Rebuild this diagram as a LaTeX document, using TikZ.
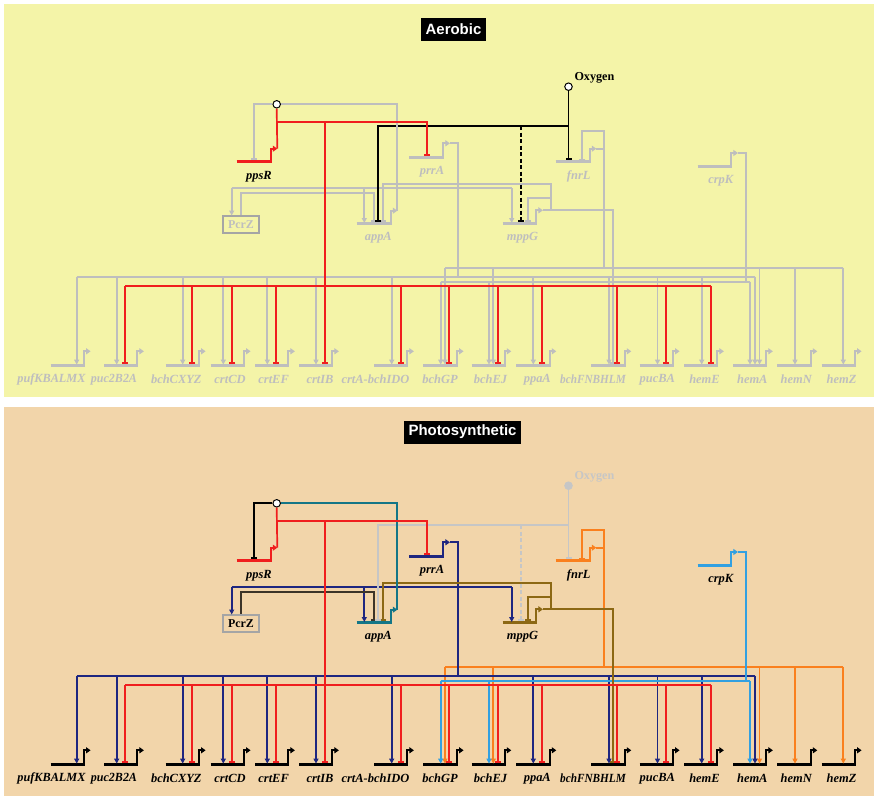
\documentclass[tikz,border=0pt]{standalone}
\usepackage{fontspec}
\usepackage{graphicx}
\setmainfont{Liberation Serif}
\newfontfamily\titlefont{Liberation Sans}
\usetikzlibrary{arrows.meta}
\definecolor{bgY}{RGB}{244,244,168}
\definecolor{bgT}{RGB}{242,213,170}
\definecolor{lgray}{RGB}{190,190,190}
\definecolor{boxgray}{RGB}{165,165,165}
\definecolor{cRed}{RGB}{240,30,30}
\definecolor{navyB}{RGB}{30,38,128}
\definecolor{tealB}{RGB}{20,118,135}
\definecolor{brownB}{RGB}{140,104,20}
\definecolor{orangeB}{RGB}{250,128,30}
\definecolor{lblueB}{RGB}{50,160,225}
\definecolor{darkB}{RGB}{60,52,40}
\definecolor{oxgray}{RGB}{198,198,198}
\tikzset{
  conn/.style={line width=1.7bp},
  gline/.style={line width=3bp},
  prom/.style={line width=2bp,-{Triangle[length=4.5bp,width=6bp]}},
  act/.style={-{Triangle[length=5bp,width=5bp]}},
  rep/.style={-{Bar[width=6bp]}},
  lbl/.style={font=\bfseries\itshape\fontsize{12.5}{14}\selectfont,inner sep=0},
  ttl/.style={fill=black,text=white,font=\titlefont\bfseries\fontsize{15}{18}\selectfont,inner xsep=5bp,inner ysep=0,minimum height=23bp},
}
\newcommand\fitw[2]{\resizebox{#1bp}{\height}{#2}}
\newcommand\midgene[6]{%
  \draw[gline,#6] (#2,#4) coordinate (#1-L) -- (#3,#4) coordinate (#1-R);
  \draw[prom,#6] ({#3-0.9},#4) -- ({#3-0.9},{#4-#5}) -- ({#3+5.6},{#4-#5}) coordinate (#1-tip);
}
\newcommand\drawnet{%
  % bottom row of genes
  \foreach \nm/\xa/\xb/\lx/\lab in {
    puf/50.7/85/51.5/\fitw{68}{pufKBALMX},
    pucB/104/138.3/114/\fitw{46}{puc2B2A},
    bchC/165.7/200/176.3/bchCXYZ,
    crtCD/210.7/245/230/crtCD,
    crtEF/255/289.3/273.6/crtEF,
    crtIB/299/333.3/320/crtIB,
    crtA/374/408.3/375.5/crtA-bchIDO,
    bchGP/423/458/440/bchGP,
    bchEJ/471.7/505.7/490.5/bchEJ,
    ppaA/516.3/550.7/537.3/ppaA,
    bchF/591.3/625.7/593/\fitw{65.7}{bchFNBHLM},
    pucBA/639.7/674/657.3/pucBA,
    hemE/684/718.3/704.5/hemE,
    hemA/733/767.3/752.3/hemA,
    hemN/777.3/811.7/796.3/hemN,
    hemZ/821.7/856/841.5/hemZ}{
    \draw[gline,cGene] (\xa,365.3) coordinate (\nm-L) -- (\xb,365.3) coordinate (\nm-R);
    \draw[prom,cGene] ({\xb-0.9},365.3) -- ({\xb-0.9},351.3) -- ({\xb+5.6},351.3);
    \node[lbl,text=cLbl] (\nm-lbl) at (\lx,379.3) {\lab};
  }
  % middle genes
  \midgene{ppsR}{236.7}{271.7}{161.7}{13}{cRed}
  \midgene{prrA}{409.3}{444.3}{157.3}{14}{cPrr}
  \midgene{fnrL}{555.7}{590.7}{161.7}{13}{cFnr}
  \midgene{crpK}{697.7}{732.3}{166}{13}{cCrp}
  \midgene{appA}{356.7}{391.7}{223.7}{13}{cApp}
  \midgene{mppG}{502.7}{537.3}{223.7}{13.4}{cMpp}
  \node[lbl,text=black] (ppsR-lbl) at (259,177) {ppsR};
  \node[lbl,text=cLbl] (prrA-lbl) at (432,171.7) {prrA};
  \node[lbl,text=cLbl] (fnrL-lbl) at (578.7,176.7) {fnrL};
  \node[lbl,text=cLbl] (crpK-lbl) at (720.8,180.3) {crpK};
  \node[lbl,text=cLbl] (appA-lbl) at (378.3,237.7) {appA};
  \node[lbl,text=cLbl] (mppG-lbl) at (522.5,237.7) {mppG};
  % PcrZ box
  \node[draw=boxgray,line width=2bp,minimum width=36.6bp,minimum height=16.7bp,inner sep=0,
        text=cLbl,font=\bfseries\fontsize{12}{14}\selectfont] (pcrz) at (241,224.3) {PcrZ};
  % complex circle and oxygen
  \node[circle,draw=black,fill=white,line width=1bp,inner sep=0,minimum size=7.5bp] (cx) at (276.7,104.3) {};
  \node[circle,draw=cOx,fill=cOxFill,line width=1bp,inner sep=0,minimum size=7.5bp] (ox) at (568.5,86.7) {};
  \node[font=\bfseries\fontsize{12.2}{14}\selectfont,text=cOxTxt,anchor=west,inner sep=0] (oxt) at (574.3,78.3) {Oxygen};
  % fnrL (orange)
  \draw[conn,cFnr] (fnrL-tip) -| (604.3,267.7);
  \draw[conn,cFnr,rep] (604.3,148.7) -- (604.3,131) -| (582.3,160.2);
  \draw[conn,cFnr] (445,267.7) -- (843.3,267.7);
  \foreach \x in {445,493.3,759.5,795,843.3} \draw[conn,cFnr,act] (\x,267.7) -- (\x,364.6);
  % prrA (navy)
  \draw[conn,cPrr] (prrA-tip) -| (457.7,276.7);
  \draw[conn,cPrr] (76.7,276.7) -- (755,276.7);
  \foreach \x in {76.7,116.7,182.7,223.3,267.3,316,391.7,533.3,609,657.5,701.7,755}
    \draw[conn,cPrr,act] (\x,276.7) -- (\x,364.6);
  \draw[conn,cPrr] (231.7,188.3) -- (511.7,188.3);
  \draw[conn,cPrr,act] (231.7,188.3) -- (231.7,215.5);
  \draw[conn,cPrr,act] (364.3,188.3) -- (364.3,223);
  \draw[conn,cPrr,act] (511.7,188.3) -- (511.7,223);
  % crpK (light blue)
  \draw[conn,cCrp] (crpK-tip) -| (745.7,281.7);
  \draw[conn,cCrp] (440.7,281.7) -- (750,281.7);
  \foreach \x in {440.7,489,750} \draw[conn,cCrp,act] (\x,281.7) -- (\x,364.6);
  % mppG (brown)
  \draw[conn,cMpp,rep] (mppG-tip) -| (613.3,363.5);
  \draw[conn,cMpp,rep] (551,210.3) -- (551,183.7) -| (382.7,222);
  \draw[conn,cMpp,rep] (551,197.7) -| (528.3,222);
  % PcrZ
  \draw[conn,cPcr,rep] (pcrz.north) -- (241,193.3) -| (374,222);
  % oxygen
  \draw[conn,cOx,rep] (ox.south) -- (568.5,160);
  \draw[conn,cOx,rep] (568.5,126) -| (378.3,222);
  \draw[conn,cOx,rep,dash pattern=on 4bp off 2.5bp] (520.7,126) -- (520.7,222);
  % appA to complex, PpsR autoregulation
  \draw[conn,cApp] (appA-tip) |- (cx.east);
  \draw[conn,cAuto,rep] (cx.west) -| (254,160);
  % ppsR (red)
  \draw[conn,cRed] (ppsR-tip) -- (cx.south);
  \draw[conn,cRed,rep] (276.7,122.3) -| (426.7,155.6);
  \draw[conn,cRed,rep] (325,122.3) -- (325,363.5);
  \draw[conn,cRed] (125,285.8) -- (710.7,285.8);
  \foreach \x in {125,192.3,232.3,276,400.7,449,498,542.3,617.3,666.3,710.7}
    \draw[conn,cRed,rep] (\x,285.8) -- (\x,363.5);
}
\begin{document}
\begin{tikzpicture}[x=1bp,y=-1bp,line join=miter]
  \fill[white] (0,0) rectangle (879,800);
  \useasboundingbox (0,0) rectangle (879,800);
  \fill[bgY] (4,4) rectangle (874,396.7);
  \fill[bgT] (4,406.7) rectangle (874,796);
  \node[ttl] (aerobic) at (453.5,29.2) {Aerobic};
  \node[ttl] (photo) at (462.5,432) {Photosynthetic};
  \begin{scope}[name prefix=T-]
    \colorlet{cPrr}{lgray}\colorlet{cFnr}{lgray}\colorlet{cCrp}{lgray}
    \colorlet{cApp}{lgray}\colorlet{cMpp}{lgray}\colorlet{cPcr}{lgray}
    \colorlet{cAuto}{lgray}\colorlet{cOx}{black}\colorlet{cOxFill}{white}
    \colorlet{cOxTxt}{black}\colorlet{cGene}{lgray}\colorlet{cLbl}{lgray}
    \drawnet
  \end{scope}
  \begin{scope}[name prefix=B-,shift={(0,399)}]
    \colorlet{cPrr}{navyB}\colorlet{cFnr}{orangeB}\colorlet{cCrp}{lblueB}
    \colorlet{cApp}{tealB}\colorlet{cMpp}{brownB}\colorlet{cPcr}{darkB}
    \colorlet{cAuto}{black}\colorlet{cOx}{oxgray}\colorlet{cOxFill}{oxgray}
    \colorlet{cOxTxt}{oxgray}\colorlet{cGene}{black}\colorlet{cLbl}{black}
    \drawnet
  \end{scope}
\end{tikzpicture}
\end{document}
